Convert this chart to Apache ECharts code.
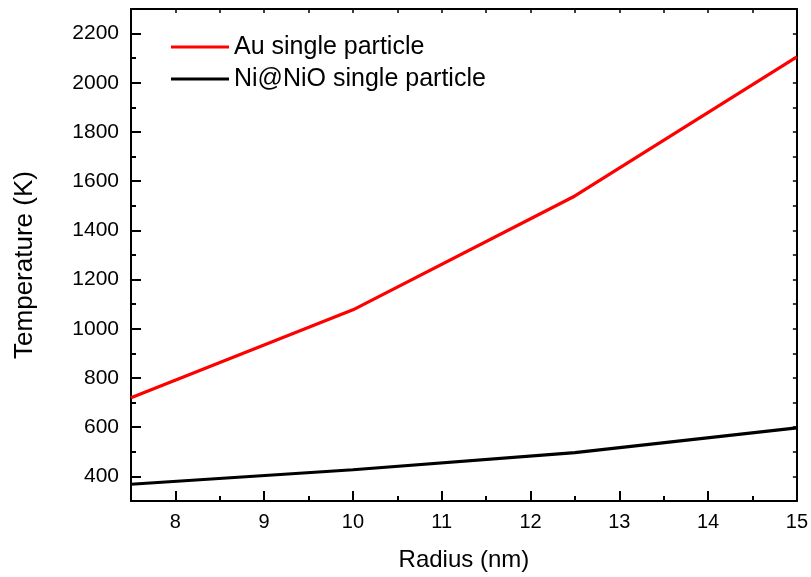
<!DOCTYPE html>
<html>
<head>
<meta charset="utf-8">
<script src="https://cdn.jsdelivr.net/npm/echarts@6/dist/echarts.min.js"></script>
<style>html,body{margin:0;padding:0;background:#fff}#c{width:811px;height:577px}</style>
</head>
<body>
<div id="c"></div>
<script>
const radius = [7.5, 10, 12.5, 15];
const auTemp = [720, 1077, 1540, 2105];
const niTemp = [368, 427, 497, 597];
const seriesNames = ['Au single particle', 'Ni@NiO single particle'];
const xMajor = [8, 9, 10, 11, 12, 13, 14, 15];
const yMajor = [400, 600, 800, 1000, 1200, 1400, 1600, 1800, 2000, 2200];

const FONT = 'Liberation Sans, Arial, sans-serif';
const chart = echarts.init(document.getElementById('c'), null, {renderer: 'canvas'});
const line = {color: '#000', width: 2};
chart.setOption({
  animation: false,
  backgroundColor: '#fff',
  grid: {left: 131, right: 13, top: 9, bottom: 76, containLabel: false},
  legend: {
    left: 166, top: 26, orient: 'vertical', icon: 'rect',
    itemWidth: 58, itemHeight: 3, itemGap: 0,
    textStyle: {fontFamily: FONT, fontSize: 25, color: '#000', lineHeight: 32},
    data: seriesNames
  },
  xAxis: [
    {type: 'value', position: 'bottom', min: 7.5, max: 15,
     name: 'Radius (nm)', nameLocation: 'middle', nameGap: 47,
     nameTextStyle: {fontFamily: FONT, fontSize: 24, color: '#000'},
     axisLine: {show: true, onZero: false, lineStyle: line},
     axisTick: {show: true, inside: true, length: 10, lineStyle: line, customValues: xMajor},
     axisLabel: {show: true, margin: 11, fontFamily: FONT, fontSize: 20, color: '#000', customValues: xMajor,
                 formatter: v => String(v)},
     splitLine: {show: false}},
    {type: 'value', position: 'bottom', min: 7.5, max: 15, interval: 0.5,
     axisLine: {show: false}, axisTick: {show: true, inside: true, length: 5, lineStyle: line},
     axisLabel: {show: false}, splitLine: {show: false}},
    {type: 'value', position: 'top', min: 7.5, max: 15, interval: 0.5,
     axisLine: {show: true, onZero: false, lineStyle: line},
     axisTick: {show: true, inside: true, length: 4, lineStyle: {color: '#000', width: 1.5}},
     axisLabel: {show: false}, splitLine: {show: false}}
  ],
  yAxis: [
    {type: 'value', position: 'left', min: 300, max: 2300,
     name: 'Temperature (K)', nameLocation: 'middle', nameGap: 93,
     nameTextStyle: {fontFamily: FONT, fontSize: 26, color: '#000', padding: [0, 20, 0, 0]},
     axisLine: {show: true, onZero: false, lineStyle: line},
     axisTick: {show: true, inside: true, length: 10, lineStyle: line, customValues: yMajor},
     axisLabel: {show: true, margin: 12, fontFamily: FONT, fontSize: 21, color: '#000', customValues: yMajor,
                 formatter: v => String(v)},
     splitLine: {show: false}},
    {type: 'value', position: 'left', min: 300, max: 2300, interval: 100,
     axisLine: {show: false}, axisTick: {show: true, inside: true, length: 5, lineStyle: line},
     axisLabel: {show: false}, splitLine: {show: false}},
    {type: 'value', position: 'right', min: 300, max: 2300, interval: 100,
     axisLine: {show: true, onZero: false, lineStyle: line},
     axisTick: {show: true, inside: true, length: 4, lineStyle: {color: '#000', width: 1.5}},
     axisLabel: {show: false}, splitLine: {show: false}}
  ],
  series: [
    {name: seriesNames[0], type: 'line', xAxisIndex: 0, yAxisIndex: 0,
     data: radius.map((r, i) => [r, auTemp[i]]),
     showSymbol: false, symbol: 'none', color: '#ff0000',
     lineStyle: {color: '#ff0000', width: 3.2}, z: 5},
    {name: seriesNames[1], type: 'line', xAxisIndex: 0, yAxisIndex: 0,
     data: radius.map((r, i) => [r, niTemp[i]]),
     showSymbol: false, symbol: 'none', color: '#000000',
     lineStyle: {color: '#000000', width: 3.2}, z: 5}
  ]
});
</script>
</body>
</html>
